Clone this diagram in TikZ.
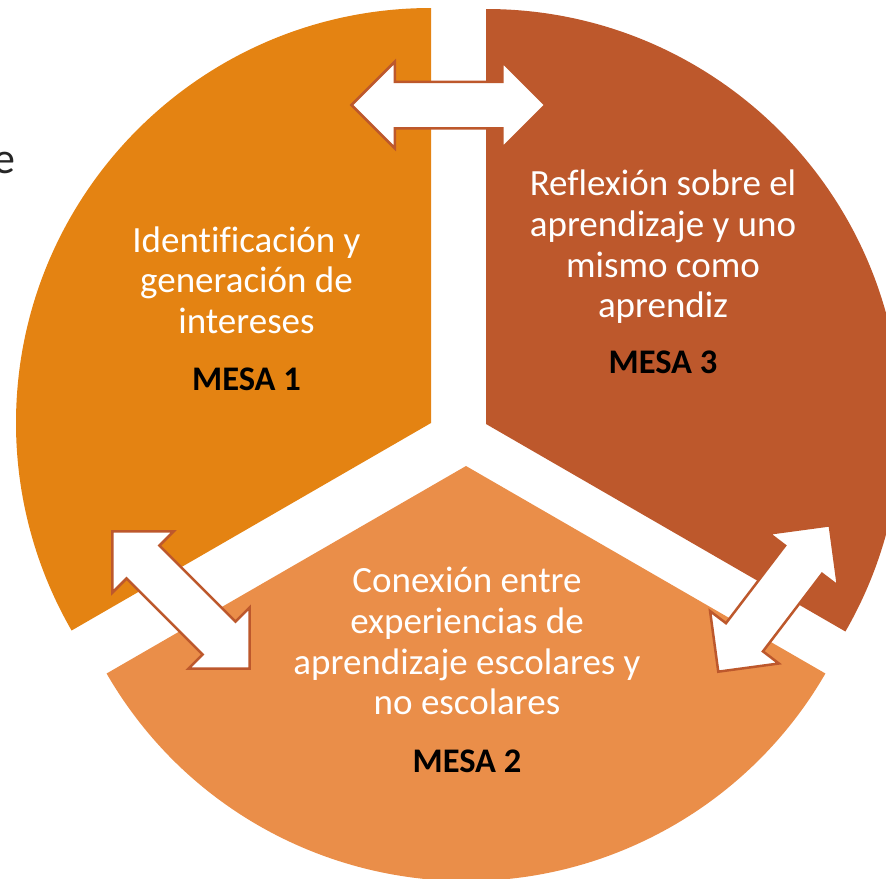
\documentclass[tikz,border=0pt]{standalone}
\usepackage{fontspec}
\setmainfont[Ligatures=NoCommon]{Carlito}
\usetikzlibrary{shapes.arrows}
\definecolor{secA}{HTML}{E48312}
\definecolor{secB}{HTML}{EA8E49}
\definecolor{secC}{HTML}{BD582C}
\begin{document}
\begin{tikzpicture}[x=1pt,y=-1pt,
  desc/.style={text=white,font=\fontsize{37}{41}\selectfont,anchor=base,inner sep=0pt},
  mesa/.style={text=black,font=\fontsize{34.5}{38}\selectfont\bfseries,anchor=base,inner sep=0pt},
  dbl/.style={double arrow, draw=secC, fill=white, line width=2.5pt,
    minimum height=194pt, minimum width=84pt, double arrow head extend=20pt,
    inner xsep=0pt, inner ysep=22pt, double arrow tip angle=90, line join=miter}]
\useasboundingbox (0,0) rectangle (886,878);
\begin{scope}
\clip (0,0) rectangle (886,878);
\fill[secA] (431,423) -- ++(-90:415) arc[start angle=-90,end angle=-210,radius=415] -- cycle;
\fill[secC] (486,424) -- ++(-90:415) arc[start angle=-90,end angle=30,radius=415] -- cycle;
\fill[secB] (466,466) -- ++(150:415) arc[start angle=150,end angle=30,radius=415] -- cycle;
\end{scope}
\node[dbl] (arr13) at (448.5,105) {};
\node[dbl,rotate=-45] (arr12) at (181,600) {};
\node[dbl,rotate=52.7,minimum height=184pt] (arr23) at (774,598.5) {};
\node[font=\fontsize{44}{50}\selectfont,anchor=base east,inner sep=0pt,text=black!85] (frag) at (16,173) {e};
% MESA 1
\node[desc] (t1a) at (246.5,252) {Identificación y};
\node[desc] (t1b) at (246.5,292.5) {generación de};
\node[desc] (t1c) at (246.5,333) {intereses};
\node[mesa] (m1) at (246.5,390) {MESA 1};
% MESA 3
\node[desc] (t3a) at (663,195) {Reflexión sobre el};
\node[desc] (t3b) at (663,236) {aprendizaje y uno};
\node[desc] (t3c) at (663,277) {mismo como};
\node[desc] (t3d) at (663,317) {aprendiz};
\node[mesa] (m3) at (663,373) {MESA 3};
% MESA 2
\node[desc] (t2a) at (467,592) {Conexión entre};
\node[desc] (t2b) at (467,633) {experiencias de};
\node[desc] (t2c) at (467,674) {aprendizaje escolares y};
\node[desc] (t2d) at (467,714) {no escolares};
\node[mesa] (m2) at (467,772) {MESA 2};
\end{tikzpicture}
\end{document}
